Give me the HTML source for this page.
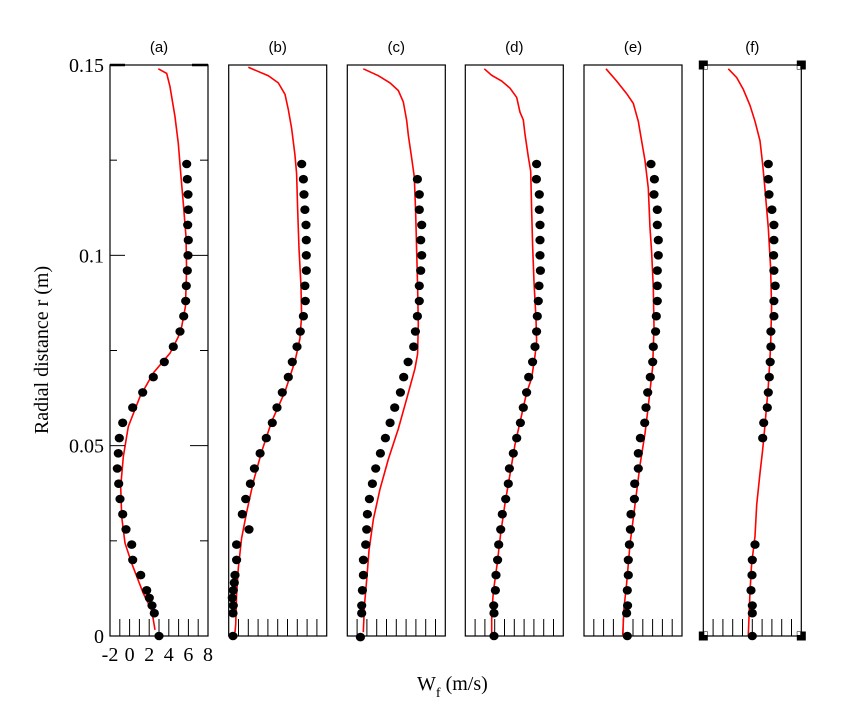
<!DOCTYPE html>
<html><head><meta charset="utf-8">
<style>
html,body{margin:0;padding:0;background:#fff;}
svg{display:block;}
</style></head>
<body>
<svg id="chart" width="864" height="720" viewBox="0 0 864 720" xmlns="http://www.w3.org/2000/svg">
<rect width="864" height="720" fill="#fff"/>
<g id="axes-layer"></g>
<text transform="translate(48,350) rotate(-90)" text-anchor="middle" font-family="Liberation Serif, serif" font-size="20">Radial distance r (m)</text>
<text x="417" y="690" font-family="Liberation Serif, serif" font-size="20">W<tspan font-size="14" dy="7">f</tspan><tspan dy="-7"> (m/s)</tspan></text>
</svg>
<script>
const panelTitles = ["(a)","(b)","(c)","(d)","(e)","(f)"];
const yTickValues = [0, 0.05, 0.1, 0.15];
const yTickLabels = ["0", "0.05", "0.1", "0.15"];
const xTickLabels = ["-2","0","2","4","6","8"];
const xTickValues = [-2,0,2,4,6,8];

// experimental dots per panel
const dotsR_a = [0.124,0.120,0.116,0.112,0.108,0.104,0.100,0.096,0.092,0.088,0.084,0.080,0.076,0.072,0.068,0.064,0.060,0.056,0.052,0.048,0.044,0.040,0.036,0.032,0.028,0.024,0.020,0.016,0.012,0.010,0.008,0.006,0];
const dotsW_a = [5.83,5.89,5.96,5.99,5.93,5.99,5.96,5.89,5.79,5.72,5.52,5.14,4.46,3.54,2.42,1.34,0.32,-0.70,-1.05,-1.15,-1.26,-1.11,-0.98,-0.70,-0.37,0.21,0.32,1.13,1.74,2.01,2.29,2.52,3.0];
const dotsR_b = [0.124,0.120,0.116,0.112,0.108,0.104,0.100,0.096,0.092,0.088,0.084,0.080,0.076,0.072,0.068,0.064,0.060,0.056,0.052,0.048,0.044,0.040,0.036,0.032,0.028,0.024,0.020,0.016,0.014,0.012,0.010,0.008,0.006,0];
const dotsW_b = [5.45,5.62,5.68,5.78,5.89,5.92,5.92,5.92,5.78,5.82,5.62,5.31,4.97,4.49,4.08,3.47,2.93,2.45,1.84,1.20,0.62,0.21,-0.27,-0.61,0.07,-1.19,-1.19,-1.36,-1.43,-1.53,-1.63,-1.53,-1.56,-1.56];
const dotsR_c = [0.120,0.116,0.112,0.108,0.104,0.100,0.096,0.092,0.088,0.084,0.080,0.076,0.072,0.068,0.064,0.060,0.056,0.052,0.048,0.044,0.040,0.036,0.032,0.028,0.024,0.020,0.016,0.012,0.008,0.006,-0.0003];
const dotsW_c = [5.15,5.35,5.35,5.59,5.49,5.59,5.49,5.35,5.35,5.15,4.95,4.78,4.20,3.76,3.42,2.84,2.37,1.89,1.38,0.90,0.56,0.25,0.05,-0.02,-0.12,-0.36,-0.36,-0.46,-0.53,-0.53,-0.66];
const dotsR_d = [0.124,0.120,0.116,0.112,0.108,0.104,0.100,0.096,0.092,0.088,0.084,0.080,0.076,0.072,0.068,0.064,0.060,0.056,0.052,0.048,0.044,0.040,0.036,0.032,0.028,0.024,0.020,0.016,0.012,0.008,0.006,0];
const dotsW_d = [5.28,5.25,5.55,5.55,5.62,5.62,5.62,5.66,5.52,5.45,5.35,5.28,5.11,4.87,4.47,4.26,3.92,3.62,3.24,2.90,2.50,2.39,2.12,1.78,1.61,1.41,1.30,1.13,1.07,0.90,0.93,0.93];
const dotsR_e = [0.124,0.120,0.116,0.112,0.108,0.104,0.100,0.096,0.092,0.088,0.084,0.080,0.076,0.072,0.068,0.064,0.060,0.056,0.052,0.048,0.044,0.040,0.036,0.032,0.028,0.024,0.020,0.016,0.012,0.008,0.006,0];
const dotsW_e = [4.84,5.18,5.14,5.48,5.48,5.58,5.58,5.48,5.48,5.48,5.38,5.31,5.07,5.01,4.77,4.50,4.33,4.19,3.75,3.54,3.54,3.17,3.14,2.80,2.73,2.63,2.52,2.52,2.42,2.45,2.35,2.42];
const dotsR_f = [0.124,0.120,0.116,0.112,0.108,0.104,0.100,0.096,0.092,0.088,0.084,0.080,0.076,0.072,0.068,0.064,0.060,0.056,0.052,0.024,0.020,0.016,0.012,0.008,0.006,0];
const dotsW_f = [4.63,4.63,4.70,5.0,5.2,5.2,5.17,5.2,5.34,5.2,5.2,4.90,4.90,4.83,4.73,4.63,4.53,4.16,4.06,3.28,3.0,2.97,2.87,3.0,3.0,3.0];

// simulation lines per panel
const lineR_a = [0.149,0.1478,0.1443,0.1364,0.1294,0.1216,0.1137,0.1049,0.0962,0.0865,0.0813,0.0786,0.0743,0.0691,0.0629,0.055,0.0471,0.0392,0.0313,0.0244,0.0191,0.0112,0.0068,0.0016];
const lineW_a = [2.93,3.79,4.12,4.63,4.97,5.21,5.48,5.76,5.82,5.69,5.32,4.97,4.12,2.42,1.06,-0.13,-0.64,-0.91,-0.81,-0.47,0.21,1.40,2.26,2.59];
const lineR_b = [0.1494,0.1472,0.1453,0.1423,0.1383,0.1334,0.1265,0.1215,0.1117,0.1018,0.0919,0.0840,0.0781,0.0721,0.0642,0.0563,0.0484,0.0405,0.0326,0.0257,0.0178,0.0109,0.0030,0.0010];
const lineW_b = [0.0,2.04,3.06,3.74,4.08,4.42,4.76,4.93,5.04,5.17,5.38,5.44,5.27,4.76,3.74,2.38,1.36,0.51,-0.16,-0.68,-1.02,-1.19,-1.29,-1.36];
const lineR_c = [0.149,0.1472,0.1453,0.1433,0.1403,0.1354,0.1314,0.1255,0.1206,0.1117,0.1018,0.0919,0.0820,0.0741,0.0702,0.0623,0.0544,0.0465,0.0386,0.0307,0.0227,0.0148,0.0079,0.0010];
const lineW_c = [-0.37,1.16,2.36,3.2,3.71,4.06,4.23,4.57,4.84,4.97,5.07,5.17,5.24,5.17,4.9,4.06,3.2,2.19,1.34,0.66,0.22,-0.02,-0.26,-0.37];
const lineR_d = [0.149,0.1473,0.1458,0.1439,0.1415,0.1376,0.1356,0.1318,0.1259,0.1221,0.1124,0.1027,0.0930,0.0833,0.0774,0.0736,0.0677,0.0639,0.0580,0.0503,0.0425,0.0348,0.0270,0.0192,0.0115,0.0057,0.0008];
const lineW_d = [-0.06,0.69,1.71,2.56,3.24,3.58,3.92,4.09,4.43,4.67,4.77,4.87,5.01,5.21,5.28,5.11,4.77,4.26,3.75,3.07,2.56,2.05,1.61,1.27,0.86,0.69,0.69];
const lineR_e = [0.149,0.1458,0.1425,0.1399,0.1352,0.1301,0.1249,0.1176,0.1072,0.1010,0.0916,0.0812,0.0708,0.0604,0.0532,0.0449,0.0345,0.0241,0.0137,0.0074,0.0002];
const lineW_e = [0.24,1.33,2.35,3.03,3.54,3.88,4.22,4.56,4.73,4.90,5.07,5.14,5.01,4.56,4.22,3.71,3.20,2.69,2.35,2.08,1.95];
const lineR_f = [0.149,0.1467,0.1436,0.1394,0.1352,0.1301,0.1238,0.1176,0.1072,0.0968,0.0864,0.0760,0.0656,0.0552,0.0490,0.0428,0.0345,0.0262,0.0189,0.0116,0.0002];
const lineW_f = [0.55,1.41,2.08,2.77,3.28,3.79,4.06,4.29,4.63,4.87,4.97,4.87,4.63,4.29,4.06,3.79,3.45,3.28,2.93,2.77,2.59];

const panelDotsR = [dotsR_a,dotsR_b,dotsR_c,dotsR_d,dotsR_e,dotsR_f];
const panelDotsW = [dotsW_a,dotsW_b,dotsW_c,dotsW_d,dotsW_e,dotsW_f];
const panelLineR = [lineR_a,lineR_b,lineR_c,lineR_d,lineR_e,lineR_f];
const panelLineW = [lineW_a,lineW_b,lineW_c,lineW_d,lineW_e,lineW_f];

const NS = "http://www.w3.org/2000/svg";
const layer = document.getElementById("axes-layer");
const lefts = [110, 228.7, 347.3, 465.3, 584, 703.3];
const PW = 98, TOP = 65, BOT = 636;
const xMin = -2, xMax = 8, yMin = 0, yMax = 0.15;
function yScale(r){ return BOT - (r - yMin) / (yMax - yMin) * (BOT - TOP); }
function xScale(i, w){ return lefts[i] + (w - xMin) / (xMax - xMin) * PW; }
function mk(tag, attrs, parent){
  const e = document.createElementNS(NS, tag);
  for (const k in attrs) e.setAttribute(k, attrs[k]);
  (parent || layer).appendChild(e);
  return e;
}

for (let i = 0; i < 6; i++){
  const g = mk("g", {});
  
  
  const L = lefts[i], R = L + PW;
  const box = mk("rect", {x:L, y:TOP, width:PW, height:BOT-TOP, fill:"none", stroke:"#000", "stroke-width":1.2}, g);
  
  
  const t = mk("text", {x:L+PW/2, y:52, "text-anchor":"middle", "font-family":"Liberation Sans, sans-serif", "font-size":15}, g);
  t.textContent = panelTitles[i];
  
  
  // bottom ticks
  for (let v = -1; v <= 7; v++){
    const x = xScale(i, v);
    const tk = mk("line", {x1:x, x2:x, y1:BOT, y2:BOT-17, stroke:"#000", "stroke-width":1}, g);
    
    
  }
  // line
  const lr = panelLineR[i], lw = panelLineW[i];
  let d = "";
  for (let k = 0; k < lr.length; k++) d += (k ? "L" : "M") + xScale(i, lw[k]).toFixed(1) + "," + yScale(lr[k]).toFixed(1);
  const p = mk("path", {d:d, fill:"none", stroke:"#ff0000", "stroke-width":1.6}, g);
  
  
  // dots
  const dr = panelDotsR[i], dw = panelDotsW[i];
  for (let k = 0; k < dr.length; k++){
    const c = mk("ellipse", {cx:xScale(i, dw[k]).toFixed(1), cy:yScale(dr[k]).toFixed(1), rx:4.6, ry:4.3, fill:"#000"}, g);
    
    
  }
  if (i === 5){
    [[L,TOP],[R,TOP],[L,BOT],[R,BOT]].forEach(([cx,cy]) => {
      const s = mk("rect", {x:cx-4.5, y:cy-4.5, width:9, height:9, fill:"#000"}, g);
      
      
      const dx = cx === L ? 1 : -4, dy = cy === TOP ? 1 : -4;
      mk("rect", {x:cx+dx, y:cy+dy, width:3, height:3, fill:"#fff"}, g);
    });
  }
}

// panel (a) y ticks and labels
const L0 = lefts[0], R0 = L0 + PW;
for (let v = 0.025; v < 0.15; v += 0.025){
  const y = yScale(v);
  const major = Math.abs(v/0.05 - Math.round(v/0.05)) < 1e-6;
  const len = major ? 15 : 7;
  const a = mk("line", {x1:L0, x2:L0+len, y1:y, y2:y, stroke:"#000", "stroke-width":1});
  
  
  const b = mk("line", {x1:R0-len-(major?3:1), x2:R0, y1:y, y2:y, stroke:"#000", "stroke-width":1});
  
  
}
mk("line", {x1:L0, x2:L0+15, y1:TOP, y2:TOP, stroke:"#000", "stroke-width":2.5});
mk("line", {x1:R0-16, x2:R0, y1:TOP, y2:TOP, stroke:"#000", "stroke-width":2.5});
for (let k = 0; k < yTickValues.length; k++){
  const t = mk("text", {x:104, y:yScale(yTickValues[k]) + 7, "text-anchor":"end", "font-family":"Liberation Serif, serif", "font-size":20});
  t.textContent = yTickLabels[k];
  
  
}
for (let k = 0; k < xTickValues.length; k++){
  const t = mk("text", {x:xScale(0, xTickValues[k]), y:661, "text-anchor":"middle", "font-family":"Liberation Serif, serif", "font-size":20});
  t.textContent = xTickLabels[k];
  
  
}
</script>
</body></html>
